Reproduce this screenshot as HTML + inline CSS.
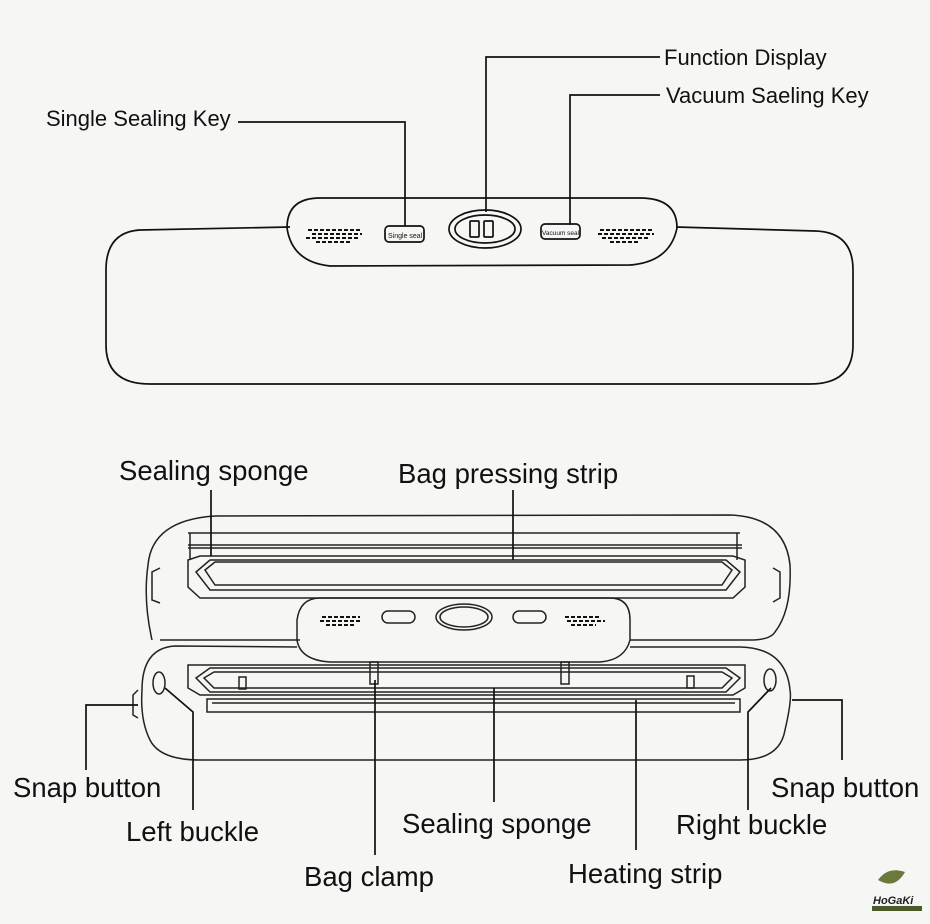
<!DOCTYPE html>
<html><head><meta charset="utf-8"><style>
html,body{margin:0;padding:0;background:#f6f6f5;}
svg{display:block}
text{font-family:"Liberation Sans","DejaVu Sans",sans-serif;fill:#111}
</style></head><body>
<svg width="930" height="924" viewBox="0 0 930 924" xmlns="http://www.w3.org/2000/svg">
<rect width="930" height="924" fill="#f6f6f5"/>
<g fill="none" stroke="#111" stroke-width="1.7">
<path d="M290 227 L140 230 Q106 232 106 270 L106 345 Q106 384 150 384 L810 384 Q853 384 853 345 L853 270 Q853 232 815 231 L676 227"/>
<path d="M320 198 L640 198 Q677 198 677 228 Q670 262 630 265 L330 266 Q292 262 287 228 Q287 198 320 198 Z"/>
<ellipse cx="485" cy="229" rx="36" ry="19"/>
<ellipse cx="485" cy="229" rx="30" ry="14"/>
<rect x="385" y="226" width="39" height="16" rx="4"/>
<rect x="541" y="224" width="39" height="15" rx="4"/>
<rect x="470" y="221" width="9" height="16" rx="1"/>
<rect x="484" y="221" width="9" height="16" rx="1"/>
<path d="M660 57 H486 V212"/>
<path d="M660 95 H570 V225"/>
<path d="M238 122 H405 V226"/>
</g>
<g stroke="#111" stroke-width="2" stroke-dasharray="4 2">
<path d="M308 230 H360 M312 234 H362 M306 238 H358 M316 242 H350"/>
<path d="M600 230 H652 M598 234 H654 M602 238 H650 M610 242 H640"/>
<path d="M322 617 H360 M320 621 H362 M326 625 H356"/>
<path d="M565 617 H600 M567 621 H605 M571 625 H596"/>
</g>
<text x="388" y="238" font-size="7" style="fill:#111">Single seal</text>
<text x="542" y="235" font-size="6.5" style="fill:#111">Vacuum seal</text>
<g fill="none" stroke="#222" stroke-width="1.5">
<path d="M152 640 Q143 600 148 565 Q152 520 215 516 L730 515 Q785 517 790 565 Q792 610 775 632 Q770 640 750 640 L630 640"/>
<path d="M300 640 L160 640"/>
<path d="M188 533 H740 M188 545 H742 M188 548 H742"/>
<path d="M190 533 V560 M737 533 V560"/>
<path d="M188 560 L200 556 H733 L745 560 V587 L733 598 H200 L188 587 Z"/>
<path d="M196 572 L210 560 H726 L740 572 L726 590 H210 Z"/>
<path d="M205 570 L215 562 H722 L732 570 L722 585 H215 Z"/>
<path d="M160 568 L152 572 V600 L160 603 M773 568 L780 572 V598 L773 602"/>
<path d="M320 598 H610 Q630 598 630 620 V640 Q625 660 600 662 H330 Q300 660 297 640 V620 Q300 598 320 598 Z"/>
<rect x="382" y="611" width="33" height="12" rx="6"/>
<rect x="513" y="611" width="33" height="12" rx="6"/>
<ellipse cx="464" cy="617" rx="28" ry="13"/>
<ellipse cx="464" cy="617" rx="24" ry="10"/>
<path d="M297 647 L175 646 Q142 648 142 690 Q140 720 150 740 Q160 760 200 760 L740 760 Q780 760 785 730 Q792 700 790 690 Q786 648 740 647 L630 647"/>
<path d="M188 665 H745 V688 L733 695 H200 L188 688 Z"/>
<path d="M196 678 L210 668 H726 L740 678 L726 692 H210 Z"/>
<path d="M204 678 L214 672 H722 L732 678 L722 688 H214 Z"/>
<rect x="207" y="699" width="533" height="13"/>
<path d="M212 703 H735"/>
<ellipse cx="159" cy="683" rx="6" ry="11"/>
<ellipse cx="770" cy="680" rx="6" ry="11"/>
<rect x="370" y="662" width="8" height="22"/>
<rect x="561" y="662" width="8" height="22"/>
<rect x="239" y="677" width="7" height="12"/>
<rect x="687" y="676" width="7" height="12"/>
<path d="M138 690 L133 695 V715 L138 718"/>
</g>
<g fill="none" stroke="#111" stroke-width="1.7">
<path d="M211 490 V556"/>
<path d="M513 490 V560"/>
<path d="M138 705 H86 V770"/>
<path d="M165 688 L193 712 V810"/>
<path d="M375 680 V855"/>
<path d="M494 688 V802"/>
<path d="M636 700 V850"/>
<path d="M771 688 L748 712 V810"/>
<path d="M792 700 H842 V760"/>
</g>
<g font-size="22">
<text x="664" y="65">Function Display</text>
<text x="666" y="103">Vacuum Saeling Key</text>
<text x="46" y="126">Single Sealing Key</text>
</g>
<g font-size="27.5">
<text x="119" y="480">Sealing sponge</text>
<text x="398" y="483">Bag pressing strip</text>
<text x="13" y="797">Snap button</text>
<text x="126" y="841">Left buckle</text>
<text x="402" y="833">Sealing sponge</text>
<text x="676" y="834">Right buckle</text>
<text x="771" y="797">Snap button</text>
<text x="304" y="886">Bag clamp</text>
<text x="568" y="883">Heating strip</text>
</g>
<path d="M878 880 Q888 866 905 872 Q895 890 878 880 Z" fill="#6b7a3a"/>
<text x="873" y="904" font-size="11" font-weight="bold" font-style="italic" style="fill:#222">HoGaKi</text>
<rect x="872" y="906" width="50" height="5" fill="#4a5a2a"/>
</svg>
</body></html>
